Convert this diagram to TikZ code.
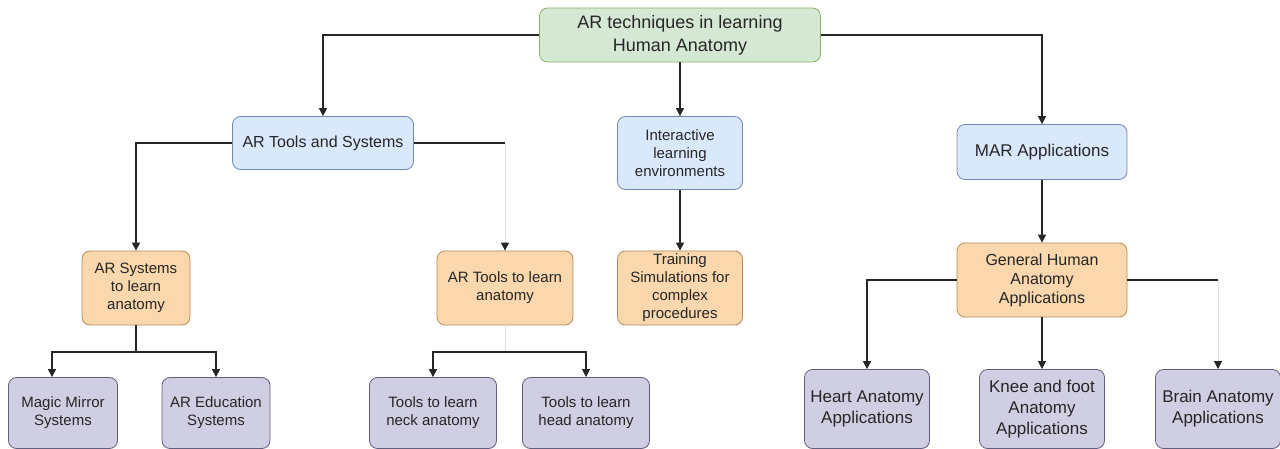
\documentclass[tikz,border=0pt]{standalone}
\usepackage{fontspec}
\setmainfont{Liberation Sans}
\usetikzlibrary{arrows.meta,positioning}
\definecolor{rootfill}{HTML}{D5E8D4}
\definecolor{rootline}{HTML}{82B366}
\definecolor{topicfill}{HTML}{DAE8FC}
\definecolor{topicline}{HTML}{6C8EBF}
\definecolor{subfill}{HTML}{FAD7AC}
\definecolor{subline}{HTML}{B48A5A}
\definecolor{leaffill}{HTML}{D0CEE2}
\definecolor{leafline}{HTML}{56517E}
\tikzset{
  basebox/.style={draw, rounded corners=8pt, align=center, inner sep=2pt, text=black!85, line width=0.8pt},
  rootblock/.style={basebox, fill=rootfill, draw=rootline, minimum width=281pt, minimum height=54pt, font=\fontsize{18}{23}\selectfont},
  topicblock/.style={basebox, fill=topicfill, draw=topicline!80!gray, font=\fontsize{16}{18}\selectfont},
  subblock/.style={basebox, fill=subfill, draw=subline, font=\fontsize{15}{18}\selectfont},
  leafblock/.style={basebox, fill=leaffill, draw=leafline!70!gray, font=\fontsize{15}{18}\selectfont},
  bigleafblock/.style={leafblock, minimum width=125pt, minimum height=79pt, font=\fontsize{17}{21}\selectfont},
  link/.style={line width=1.2pt, black!85},
  arrow/.style={link, -{Triangle[length=8pt, width=8pt]}},
  faintlink/.style={line width=1pt, black!12},
  faintarrow/.style={faintlink, -{Triangle[length=8pt, width=8pt, color=black!85]}}
}
\begin{document}
\begin{tikzpicture}[x=1pt, y=-1pt]
    \useasboundingbox (0,0) rectangle (1280,449);

    \node[rootblock] (root) at (680,35) {AR techniques in learning\\Human Anatomy};

    \node[topicblock, minimum width=181pt, minimum height=53pt] (tools) at (323,143) {AR Tools and Systems};
    \node[topicblock, minimum width=125pt, minimum height=73pt, font=\fontsize{15}{18}\selectfont] (interact) at (680,153) {Interactive\\learning\\environments};
    \node[topicblock, minimum width=170pt, minimum height=55pt, font=\fontsize{17}{20}\selectfont] (mar) at (1042,152) {MAR Applications};

    \node[subblock, minimum width=108pt, minimum height=74pt] (arsys) at (136,288) {AR Systems\\to learn\\anatomy};
    \node[subblock, minimum width=136pt, minimum height=74pt] (arlearn) at (505,288) {AR Tools to learn\\anatomy};
    \node[subblock, minimum width=125pt, minimum height=74pt] (training) at (680,288) {Training\\Simulations for\\complex\\procedures};
    \node[subblock, minimum width=170pt, minimum height=74pt, font=\fontsize{16}{19}\selectfont] (general) at (1042,280) {General Human\\Anatomy\\Applications};

    \node[leafblock, minimum width=109pt, minimum height=71pt] (mirror) at (63,413) {Magic Mirror\\Systems};
    \node[leafblock, minimum width=108pt, minimum height=71pt] (education) at (216,413) {AR Education\\Systems};
    \node[leafblock, minimum width=127pt, minimum height=71pt] (neck) at (433,413) {Tools to learn\\neck anatomy};
    \node[leafblock, minimum width=127pt, minimum height=71pt] (head) at (586,413) {Tools to learn\\head anatomy};
    \node[bigleafblock] (heart) at (867,409) {Heart Anatomy\\Applications};
    \node[bigleafblock] (knee) at (1042,409) {Knee and foot\\Anatomy\\Applications};
    \node[bigleafblock] (brain) at (1218,409) {Brain Anatomy\\Applications};

    % bends and forks
    \coordinate (toolsbend) at (505,143);
    \coordinate (sysfork) at (136,352);
    \coordinate (toolfork) at (505,352);
    \coordinate (genbend) at (1218,280);

    \draw[arrow] (root.west) -| (tools.north);
    \draw[arrow] (root.south) -- (interact.north);
    \draw[arrow] (root.east) -| (mar.north);

    \draw[arrow] (tools.west) -| (arsys.north);
    \draw[link] (tools.east) -- (toolsbend);
    \draw[faintarrow] (toolsbend) -- (arlearn.north);
    \draw[arrow] (interact) -- (training);
    \draw[arrow] (mar) -- (general);

    \draw[link] (arsys) -- (sysfork);
    \draw[arrow] (sysfork) -| ([xshift=-11pt]mirror.north);
    \draw[arrow] (sysfork) -| (education.north);
    \draw[faintlink] (arlearn) -- (toolfork);
    \draw[arrow] (toolfork) -| (neck.north);
    \draw[arrow] (toolfork) -| (head.north);

    \draw[arrow] (general.west) -| (heart.north);
    \draw[arrow] (general) -- (knee);
    \draw[link] (general.east) -- (genbend);
    \draw[faintarrow] (genbend) -- (brain.north);
\end{tikzpicture}
\end{document}
